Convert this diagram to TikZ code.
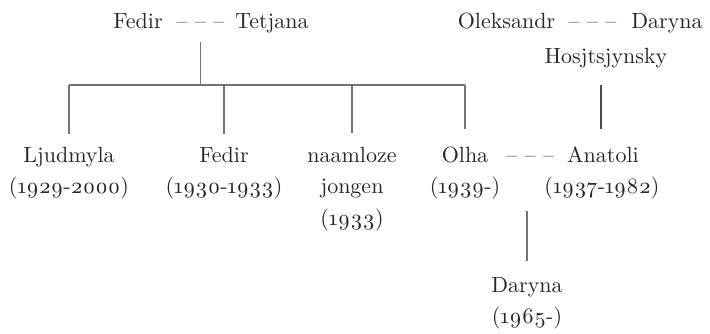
\documentclass[tikz,border=0pt]{standalone}
\usepackage{fontspec}
\setmainfont{lmroman10-regular}[Extension=.otf]
\begin{document}
\begin{tikzpicture}[x=1pt,y=-1pt,
  nm/.style={anchor=base,inner sep=0pt,text=black!85,font=\fontsize{22}{27}\selectfont},
  ln/.style={draw=black!55,line width=1.1pt},
  lnd/.style={draw=black!70,line width=1.1pt}]
\useasboundingbox (0,0) rectangle (710,333);
\newcommand{\yr}[1]{\oldstylenums{#1}}
% top generation
\node[nm] (fedir) at (138,28) {Fedir};
\node[nm] (m1) at (200.5,28) {– – –};
\node[nm] (tetj) at (272,28) {Tetjana};
\node[nm] (olek) at (506.5,28) {Oleksandr};
\node[nm] (m2) at (592.5,28) {– – –};
\node[nm] (dar0) at (667,28) {Daryna};
\node[nm] (hosj) at (606,63) {Hosjtsjynsky};
% second generation
\node[nm] (ljud) at (69,162) {Ljudmyla};
\node[nm] (ljudd) at (69,193) {(\yr{1929}-\yr{2000})};
\node[nm] (fed2) at (224,162) {Fedir};
\node[nm] (fed2d) at (224,193) {(\yr{1930}-\yr{1933})};
\node[nm] (naam) at (352,162) {naamloze};
\node[nm] (naam2) at (352,193) {jongen};
\node[nm] (naamd) at (352,225) {(\yr{1933})};
\node[nm] (olha) at (465,162) {Olha};
\node[nm] (olhad) at (465,193) {(\yr{1939}-)};
\node[nm] (m3) at (530,162) {– – –};
\node[nm] (anat) at (603,162) {Anatoli};
\node[nm] (anatd) at (602,193) {(\yr{1937}-\yr{1982})};
% third generation
\node[nm] (dchild) at (527,292) {Daryna};
\node[nm] (dchildd) at (527,323) {(\yr{1965}-)};
% connectors
\coordinate (bar) at (0,85);
\draw[ln] ([yshift=-14pt]m1.base) -- (m1.base |- bar);
\draw[ln] (ljud.base |- bar) -- (olha.base |- bar);
\draw[ln] (ljud.base |- bar) -- ([yshift=28pt]ljud.base);
\draw[ln] (fed2.base |- bar) -- ([yshift=28pt]fed2.base);
\draw[ln] (naam.base |- bar) -- ([yshift=29pt]naam.base);
\draw[ln] (olha.base |- bar) -- ([yshift=33pt]olha.base);
\draw[lnd] ([xshift=-5pt,yshift=-22pt]hosj.base) -- ([xshift=-2pt,yshift=33pt]anat.base);
\draw[ln] (dchild.base |- m3.base) ++(0,49) -- ([yshift=31pt]dchild.base);
\end{tikzpicture}
\end{document}
